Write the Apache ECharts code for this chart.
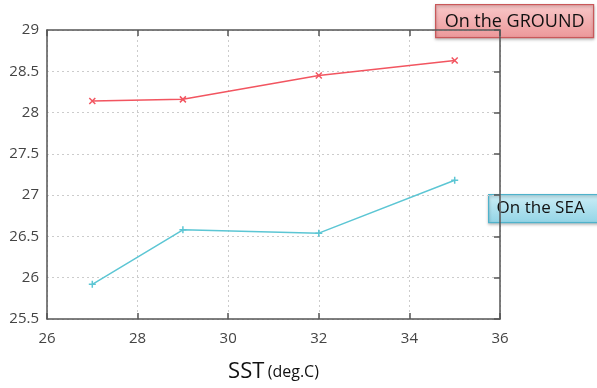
<!DOCTYPE html>
<html><head><meta charset="utf-8">
<script src="https://cdn.jsdelivr.net/npm/echarts@6/dist/echarts.min.js"></script>
<style>html,body{margin:0;padding:0;background:#fff}#c{width:597px;height:388px}</style>
</head><body><div id="c"></div>
<script>
const sst = [27, 29, 32, 35];
const groundValues = [28.14, 28.16, 28.45, 28.63];
const seaValues = [25.92, 26.58, 26.54, 27.18];
const xTicks = [26, 28, 30, 32, 34, 36];
const yTicks = [25.5, 26, 26.5, 27, 27.5, 28, 28.5, 29];
const legendGround = 'On the GROUND';
const legendSea = 'On the SEA';

const font = '"Open Sans", "Liberation Sans", sans-serif';
const axisColor = '#555';
const chart = echarts.init(document.getElementById('c'));
const pair = (xs, ys) => xs.map((x, i) => [x, ys[i]]);
const crossX = 'path://M0,0L10,10M10,0L0,10';
const crossPlus = 'path://M5,0L5,10M0,5L10,5';

chart.setOption({
  animation: false,
  grid: { left: 47, right: 97, top: 30, bottom: 65.5 },
  xAxis: [{
    type: 'value', min: xTicks[0], max: xTicks[xTicks.length - 1], interval: 2,
    axisLine: { show: true, lineStyle: { color: axisColor, width: 1.5 } },
    axisTick: { show: true, inside: true, length: 6, lineStyle: { color: axisColor, width: 1.5 } },
    axisLabel: { color: '#444', fontSize: 15, fontFamily: font, margin: 12 },
    splitLine: { show: true, lineStyle: { color: '#ccc', type: [2, 3], width: 1 } },
    name: '{a|SST} {b|(deg.C)}', nameLocation: 'middle', nameGap: 42,
    nameTextStyle: { rich: {
      a: { fontSize: 22, fontFamily: font, color: '#111' },
      b: { fontSize: 16, fontFamily: font, color: '#111' }
    } }
  }, {
    type: 'value', position: 'top', min: xTicks[0], max: xTicks[xTicks.length - 1], interval: 2,
    axisLine: { show: true, lineStyle: { color: axisColor, width: 1.5 } },
    axisTick: { show: true, inside: true, length: 6, lineStyle: { color: axisColor, width: 1.5 } },
    axisLabel: { show: false }, splitLine: { show: false }
  }],
  yAxis: [{
    type: 'value', min: yTicks[0], max: yTicks[yTicks.length - 1], interval: 0.5,
    axisLine: { show: true, lineStyle: { color: axisColor, width: 1.5 } },
    axisTick: { show: false },
    axisLabel: { color: '#444', fontSize: 15, fontFamily: font, margin: 8 },
    splitLine: { show: true, lineStyle: { color: '#ccc', type: [2, 3], width: 1 } }
  }, {
    type: 'value', position: 'right', min: yTicks[0], max: yTicks[yTicks.length - 1], interval: 0.5,
    axisLine: { show: true, lineStyle: { color: axisColor, width: 1.5 } },
    axisTick: { show: true, inside: true, length: 6, lineStyle: { color: axisColor, width: 1.5 } },
    axisLabel: { show: false }, splitLine: { show: false }
  }],
  series: [{
    name: legendGround, type: 'line', data: pair(sst, groundValues),
    symbol: crossX, symbolSize: 6,
    lineStyle: { color: '#f25560', width: 1.5 },
    itemStyle: { color: 'rgba(0,0,0,0)', borderColor: '#f25560', borderWidth: 1.5 }
  }, {
    name: legendSea, type: 'line', data: pair(sst, seaValues),
    symbol: crossPlus, symbolSize: 7,
    lineStyle: { color: '#5cc6d4', width: 1.5 },
    itemStyle: { color: 'rgba(0,0,0,0)', borderColor: '#5cc6d4', borderWidth: 1.5 }
  }],
  graphic: [{
    type: 'group', left: 435, top: 4,
    children: [{
      type: 'rect', shape: { x: 0, y: 0, width: 158, height: 33 },
      style: {
        fill: new echarts.graphic.LinearGradient(0, 0, 0, 1, [
          { offset: 0, color: '#f9c9ca' }, { offset: 1, color: '#ec9799' }]),
        stroke: '#c9585a', lineWidth: 1.2,
        shadowBlur: 3, shadowColor: 'rgba(0,0,0,0.3)', shadowOffsetY: 1.5
      }
    }, {
      type: 'text', x: 79, y: 17,
      style: { text: legendGround, fill: '#111', font: '18px ' + font, align: 'center', verticalAlign: 'middle' }
    }]
  }, {
    type: 'group', left: 488, top: 194,
    children: [{
      type: 'rect', shape: { x: 0, y: 0, width: 112, height: 28 },
      style: {
        fill: new echarts.graphic.LinearGradient(0, 0, 0, 1, [
          { offset: 0, color: '#cdeef6' }, { offset: 1, color: '#92d4e6' }]),
        stroke: '#4fb2cb', lineWidth: 1.2,
        shadowBlur: 3, shadowColor: 'rgba(0,0,0,0.3)', shadowOffsetY: 1.5
      }
    }, {
      type: 'text', x: 8, y: 14,
      style: { text: legendSea, fill: '#111', font: '17px ' + font, align: 'left', verticalAlign: 'middle' }
    }]
  }]
});
</script></body></html>
